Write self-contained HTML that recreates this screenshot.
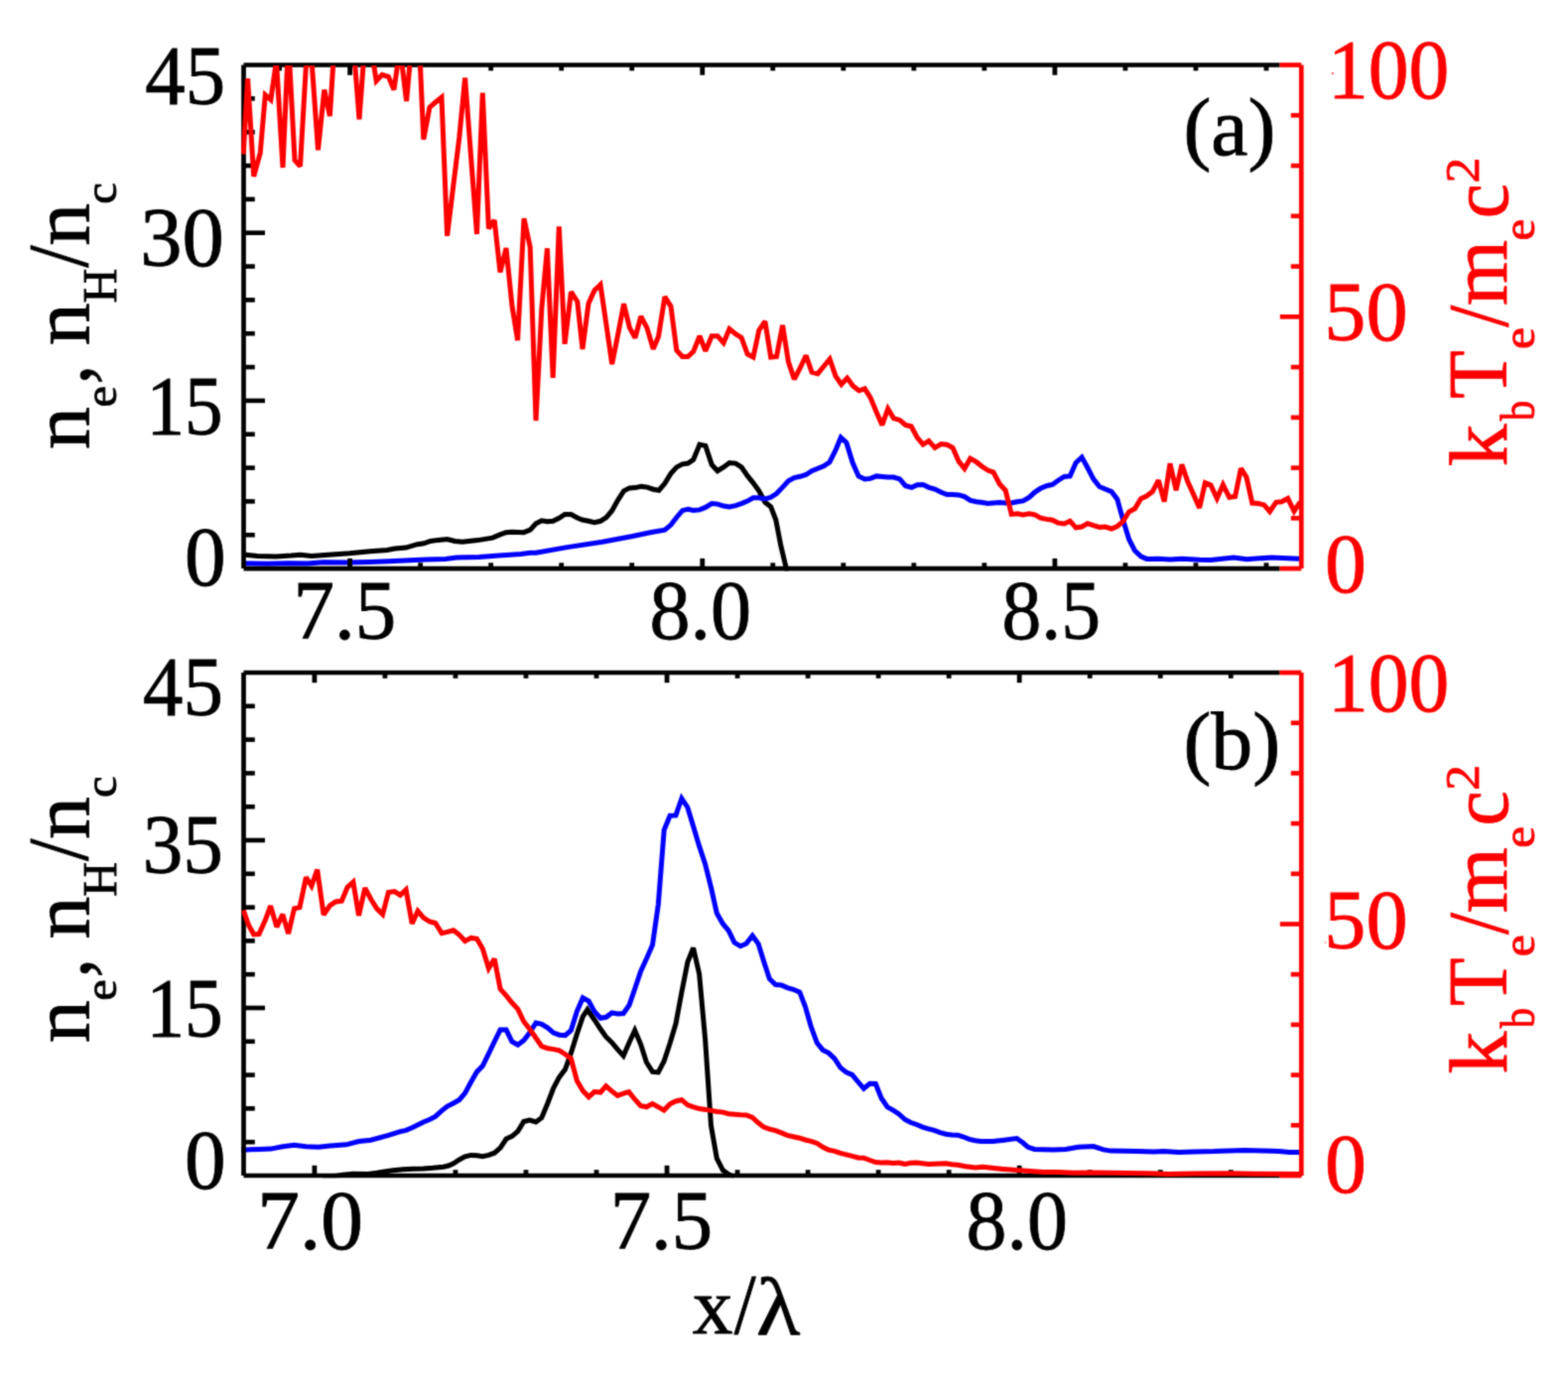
<!DOCTYPE html>
<html lang="en">
<head>
<meta charset="utf-8">
<title>Electron and proton density with electron temperature profiles</title>
<style>
html,body{margin:0;padding:0;background:#ffffff;}
body{width:1580px;height:1384px;overflow:hidden;}
svg{display:block;}
</style>
</head>
<body>
<svg width="1580" height="1384" viewBox="0 0 1580 1384" font-family="'Liberation Serif', 'DejaVu Serif', serif">
<defs>
<clipPath id="ca"><rect x="243.15" y="66.00" width="1070.50" height="509.45"/></clipPath>
<clipPath id="cb"><rect x="243.15" y="678.50" width="1070.50" height="508.85"/></clipPath>
<filter id="soft" x="0" y="0" width="1580" height="1384" filterUnits="userSpaceOnUse" color-interpolation-filters="sRGB"><feConvolveMatrix order="3" kernelMatrix="0.0361 0.1178 0.0361 0.1178 0.3846 0.1178 0.0361 0.1178 0.0361" edgeMode="duplicate" preserveAlpha="false"/></filter>
</defs>
<g id="figure" filter="url(#soft)">
<rect width="1580" height="1384" fill="#ffffff"/>
<g id="panel-a">
<path d="M245.0 559.0 L247.6 559.2 L259.0 560.5 L278.0 561.1 L293.2 560.1 L302.7 559.2 L314.0 560.5 L327.3 559.6 L352.0 557.8 L372.9 555.8 L390.0 554.4 L397.6 553.1 L409.0 552.1 L420.4 548.7 L427.0 547.8 L433.7 545.5 L441.3 544.4 L450.7 543.6 L458.3 545.5 L465.9 546.3 L481.1 544.6 L496.3 542.1 L503.9 538.9 L510.0 536.7 L516.0 536.2 L527.8 536.7 L534.2 534.2 L540.0 527.8 L545.8 524.8 L551.4 525.8 L557.2 525.3 L563.3 522.3 L569.1 518.5 L575.4 518.5 L581.8 522.0 L586.8 524.0 L593.2 525.3 L599.0 526.6 L605.0 525.3 L610.9 521.5 L616.7 514.7 L622.8 503.8 L628.6 494.9 L634.4 491.9 L640.0 491.6 L646.3 490.4 L652.2 491.1 L658.2 493.2 L664.0 494.2 L669.9 487.3 L676.0 477.2 L681.8 470.9 L687.6 467.8 L693.2 467.1 L698.7 463.3 L705.0 448.1 L710.9 449.4 L717.2 468.4 L723.0 474.7 L729.1 470.9 L735.0 466.6 L741.3 467.1 L747.1 470.9 L753.2 479.7 L759.0 486.8 L764.8 494.9 L770.9 506.3 L776.7 510.9 L781.8 524.0 L786.8 549.9 L793.0 576.0" fill="none" stroke="#000000" stroke-width="5.00" stroke-linejoin="miter" stroke-miterlimit="2.5" stroke-linecap="butt" clip-path="url(#ca)"/>
<path d="M244.0 568.0 L248.0 568.0 L270.0 568.2 L290.0 567.8 L310.0 568.1 L316.0 567.6 L326.0 566.7 L350.0 566.9 L372.9 566.5 L391.9 565.8 L429.9 563.9 L448.8 563.4 L460.2 562.0 L483.0 561.5 L505.8 559.7 L524.8 558.6 L534.3 557.3 L540.0 557.3 L571.6 551.6 L607.0 546.3 L637.5 540.5 L655.2 536.7 L669.9 534.2 L676.0 529.1 L681.8 521.5 L687.6 514.7 L693.2 513.2 L698.7 514.4 L705.0 513.9 L710.9 511.4 L717.2 507.6 L723.0 508.1 L729.1 510.1 L735.0 510.9 L741.3 509.6 L747.1 507.6 L753.2 505.1 L759.0 501.8 L764.8 501.8 L770.9 503.0 L776.7 501.3 L782.5 497.5 L788.6 491.1 L794.4 484.8 L800.3 481.5 L806.3 480.3 L812.2 478.5 L818.0 474.7 L824.0 472.2 L830.1 469.7 L836.0 465.7 L842.0 453.8 L847.3 441.1 L852.9 446.2 L859.2 466.5 L865.1 479.9 L871.4 482.9 L877.0 482.4 L883.3 479.9 L888.9 480.4 L894.7 480.9 L900.5 481.1 L906.6 482.9 L912.4 489.7 L918.7 491.3 L924.3 488.7 L930.1 488.5 L935.9 491.3 L942.0 493.0 L948.4 496.3 L954.2 498.6 L960.0 498.4 L966.1 498.9 L971.9 500.6 L977.7 504.4 L983.8 505.7 L989.6 506.5 L995.4 507.5 L1001.0 507.0 L1007.3 506.5 L1013.2 507.0 L1019.2 507.0 L1025.1 505.7 L1030.9 504.9 L1037.0 501.4 L1042.8 496.1 L1048.6 492.3 L1054.7 489.7 L1060.5 488.5 L1066.3 484.2 L1072.4 480.4 L1078.2 479.9 L1084.1 466.5 L1090.1 460.9 L1095.9 471.5 L1101.8 482.9 L1107.8 490.5 L1113.7 493.0 L1120.0 495.6 L1125.8 503.2 L1131.4 523.4 L1137.7 543.7 L1143.5 555.1 L1149.6 560.9 L1155.4 563.4 L1167.3 563.2 L1179.0 563.9 L1190.9 563.2 L1208.6 564.2 L1220.0 564.4 L1243.3 562.1 L1256.0 563.8 L1281.3 562.0 L1309.0 563.3 L1312.0 563.3" fill="none" stroke="#0000ff" stroke-width="5.00" stroke-linejoin="miter" stroke-miterlimit="2.5" stroke-linecap="butt" clip-path="url(#ca)"/>
<line x1="245.50" y1="65.50" x2="1289.60" y2="65.50" stroke="#000000" stroke-width="4.70"/>
<line x1="245.50" y1="573.10" x2="1289.60" y2="573.10" stroke="#000000" stroke-width="4.70"/>
<line x1="245.50" y1="65.50" x2="245.50" y2="573.10" stroke="#000000" stroke-width="4.70"/>
<line x1="245.50" y1="539.26" x2="256.80" y2="539.26" stroke="#000000" stroke-width="4.60"/>
<line x1="245.50" y1="505.42" x2="256.80" y2="505.42" stroke="#000000" stroke-width="4.60"/>
<line x1="245.50" y1="471.58" x2="256.80" y2="471.58" stroke="#000000" stroke-width="4.60"/>
<line x1="245.50" y1="437.74" x2="256.80" y2="437.74" stroke="#000000" stroke-width="4.60"/>
<line x1="245.50" y1="403.90" x2="267.00" y2="403.90" stroke="#000000" stroke-width="4.60"/>
<line x1="245.50" y1="370.06" x2="256.80" y2="370.06" stroke="#000000" stroke-width="4.60"/>
<line x1="245.50" y1="336.22" x2="256.80" y2="336.22" stroke="#000000" stroke-width="4.60"/>
<line x1="245.50" y1="302.38" x2="256.80" y2="302.38" stroke="#000000" stroke-width="4.60"/>
<line x1="245.50" y1="268.54" x2="256.80" y2="268.54" stroke="#000000" stroke-width="4.60"/>
<line x1="245.50" y1="234.70" x2="267.00" y2="234.70" stroke="#000000" stroke-width="4.60"/>
<line x1="245.50" y1="200.86" x2="256.80" y2="200.86" stroke="#000000" stroke-width="4.60"/>
<line x1="245.50" y1="167.02" x2="256.80" y2="167.02" stroke="#000000" stroke-width="4.60"/>
<line x1="245.50" y1="133.18" x2="256.80" y2="133.18" stroke="#000000" stroke-width="4.60"/>
<line x1="245.50" y1="99.34" x2="256.80" y2="99.34" stroke="#000000" stroke-width="4.60"/>
<line x1="281.57" y1="65.50" x2="281.57" y2="71.30" stroke="#000000" stroke-width="4.80"/>
<line x1="352.60" y1="573.10" x2="352.60" y2="562.90" stroke="#000000" stroke-width="4.80"/>
<line x1="352.60" y1="65.50" x2="352.60" y2="75.70" stroke="#000000" stroke-width="4.80"/>
<line x1="423.63" y1="573.10" x2="423.63" y2="567.30" stroke="#000000" stroke-width="4.80"/>
<line x1="423.63" y1="65.50" x2="423.63" y2="71.30" stroke="#000000" stroke-width="4.80"/>
<line x1="494.66" y1="573.10" x2="494.66" y2="567.30" stroke="#000000" stroke-width="4.80"/>
<line x1="494.66" y1="65.50" x2="494.66" y2="71.30" stroke="#000000" stroke-width="4.80"/>
<line x1="565.69" y1="573.10" x2="565.69" y2="567.30" stroke="#000000" stroke-width="4.80"/>
<line x1="565.69" y1="65.50" x2="565.69" y2="71.30" stroke="#000000" stroke-width="4.80"/>
<line x1="636.72" y1="573.10" x2="636.72" y2="567.30" stroke="#000000" stroke-width="4.80"/>
<line x1="636.72" y1="65.50" x2="636.72" y2="71.30" stroke="#000000" stroke-width="4.80"/>
<line x1="707.75" y1="573.10" x2="707.75" y2="562.90" stroke="#000000" stroke-width="4.80"/>
<line x1="707.75" y1="65.50" x2="707.75" y2="75.70" stroke="#000000" stroke-width="4.80"/>
<line x1="778.78" y1="573.10" x2="778.78" y2="567.30" stroke="#000000" stroke-width="4.80"/>
<line x1="778.78" y1="65.50" x2="778.78" y2="71.30" stroke="#000000" stroke-width="4.80"/>
<line x1="849.81" y1="573.10" x2="849.81" y2="567.30" stroke="#000000" stroke-width="4.80"/>
<line x1="849.81" y1="65.50" x2="849.81" y2="71.30" stroke="#000000" stroke-width="4.80"/>
<line x1="920.84" y1="573.10" x2="920.84" y2="567.30" stroke="#000000" stroke-width="4.80"/>
<line x1="920.84" y1="65.50" x2="920.84" y2="71.30" stroke="#000000" stroke-width="4.80"/>
<line x1="991.87" y1="573.10" x2="991.87" y2="567.30" stroke="#000000" stroke-width="4.80"/>
<line x1="991.87" y1="65.50" x2="991.87" y2="71.30" stroke="#000000" stroke-width="4.80"/>
<line x1="1062.90" y1="573.10" x2="1062.90" y2="562.90" stroke="#000000" stroke-width="4.80"/>
<line x1="1062.90" y1="65.50" x2="1062.90" y2="75.70" stroke="#000000" stroke-width="4.80"/>
<line x1="1133.93" y1="573.10" x2="1133.93" y2="567.30" stroke="#000000" stroke-width="4.80"/>
<line x1="1133.93" y1="65.50" x2="1133.93" y2="71.30" stroke="#000000" stroke-width="4.80"/>
<line x1="1204.96" y1="573.10" x2="1204.96" y2="567.30" stroke="#000000" stroke-width="4.80"/>
<line x1="1204.96" y1="65.50" x2="1204.96" y2="71.30" stroke="#000000" stroke-width="4.80"/>
<line x1="1275.99" y1="573.10" x2="1275.99" y2="567.30" stroke="#000000" stroke-width="4.80"/>
<line x1="1275.99" y1="65.50" x2="1275.99" y2="71.30" stroke="#000000" stroke-width="4.80"/>
<path d="M245.2 155.5 L249.6 79.1 L255.7 177.8 L262.3 153.8 L267.3 95.6 L272.9 100.6 L278.5 61.0 L285.0 169.0 L290.6 41.0 L297.0 161.4 L302.5 167.7 L308.3 67.5 L311.0 63.2 L314.5 67.0 L320.5 151.3 L326.8 90.5 L332.4 117.0 L338.3 24.0 L344.2 30.0 L350.1 30.0 L356.2 46.0 L362.0 120.4 L367.8 42.0 L373.8 47.5 L379.2 81.6 L385.0 75.3 L391.4 77.3 L397.0 90.5 L403.0 48.0 L409.6 101.9 L415.4 38.0 L421.3 17.0 L426.8 140.6 L432.9 108.2 L438.9 103.0 L445.0 98.1 L450.6 237.8 L456.7 188.0 L462.8 138.6 L468.6 78.4 L474.5 157.0 L480.5 236.0 L486.3 93.5 L492.4 230.3 L498.2 222.0 L504.0 274.5 L510.0 250.0 L516.0 308.5 L521.6 343.0 L528.0 220.2 L534.2 249.0 L540.0 424.0 L545.8 311.4 L551.4 250.3 L557.2 381.0 L563.3 228.4 L569.1 346.8 L575.4 294.2 L581.8 304.0 L587.0 351.9 L593.0 306.0 L599.0 292.7 L605.0 287.0 L610.9 327.0 L616.7 367.1 L622.7 337.0 L628.6 306.3 L634.4 330.4 L640.0 340.5 L645.8 319.0 L651.9 330.4 L658.2 351.9 L663.5 339.2 L669.9 299.2 L676.0 308.9 L681.8 353.2 L687.6 359.5 L693.2 359.5 L698.7 354.4 L705.0 338.7 L710.9 353.9 L717.2 338.7 L723.0 338.7 L729.1 345.6 L735.0 331.6 L741.3 336.7 L747.1 340.5 L753.2 357.0 L759.0 360.0 L764.8 332.9 L770.9 324.0 L776.7 360.0 L782.5 359.5 L788.6 327.8 L794.4 364.6 L800.3 382.3 L806.2 371.0 L812.2 358.2 L818.0 375.2 L824.0 376.7 L830.3 369.0 L836.1 362.0 L842.0 379.1 L847.8 387.5 L853.7 381.1 L859.7 389.2 L865.6 393.8 L871.4 391.8 L877.0 400.6 L883.3 415.8 L888.9 428.5 L894.7 412.0 L900.5 421.6 L906.6 423.4 L912.4 428.5 L918.2 429.7 L924.3 441.1 L930.1 448.0 L935.9 444.4 L942.0 451.3 L948.4 447.5 L954.2 448.2 L960.0 451.3 L966.1 465.2 L971.9 472.3 L977.7 462.2 L983.8 465.7 L989.6 470.3 L995.4 474.1 L1001.0 476.1 L1007.3 488.0 L1013.2 494.3 L1019.2 518.4 L1025.1 517.8 L1030.9 518.9 L1037.0 517.8 L1042.8 518.9 L1048.6 522.2 L1054.7 523.4 L1060.5 524.2 L1066.3 527.2 L1072.4 528.0 L1078.2 525.2 L1084.1 531.8 L1090.1 531.0 L1095.9 527.7 L1101.8 529.7 L1107.8 531.5 L1113.7 531.0 L1120.0 533.0 L1125.8 530.5 L1131.4 525.9 L1137.7 515.8 L1143.5 512.8 L1149.6 502.7 L1155.4 500.1 L1161.3 495.6 L1167.3 484.2 L1173.2 505.7 L1179.0 467.2 L1185.1 494.3 L1190.9 468.2 L1196.7 485.4 L1202.3 497.6 L1208.6 512.0 L1214.4 486.7 L1220.0 489.0 L1226.3 502.5 L1232.4 488.6 L1238.7 501.3 L1244.6 500.5 L1250.4 472.2 L1256.0 481.0 L1261.8 507.1 L1267.8 507.6 L1273.7 508.9 L1279.5 515.7 L1285.8 506.3 L1291.4 505.8 L1297.7 502.5 L1304.0 515.2 L1309.0 507.6 L1312.0 505.0" fill="none" stroke="#ff0000" stroke-width="5.00" stroke-linejoin="miter" stroke-miterlimit="2.5" stroke-linecap="butt" clip-path="url(#ca)"/>
<line x1="1289.60" y1="65.50" x2="1311.30" y2="65.50" stroke="#ff0000" stroke-width="4.70"/>
<line x1="1289.60" y1="573.10" x2="1311.30" y2="573.10" stroke="#ff0000" stroke-width="4.70"/>
<line x1="1311.30" y1="65.50" x2="1311.30" y2="573.10" stroke="#ff0000" stroke-width="4.70"/>
<line x1="1300.80" y1="522.34" x2="1311.30" y2="522.34" stroke="#ff0000" stroke-width="4.60"/>
<line x1="1300.80" y1="471.58" x2="1311.30" y2="471.58" stroke="#ff0000" stroke-width="4.60"/>
<line x1="1300.80" y1="420.82" x2="1311.30" y2="420.82" stroke="#ff0000" stroke-width="4.60"/>
<line x1="1300.80" y1="370.06" x2="1311.30" y2="370.06" stroke="#ff0000" stroke-width="4.60"/>
<line x1="1289.80" y1="319.30" x2="1311.30" y2="319.30" stroke="#ff0000" stroke-width="4.60"/>
<line x1="1300.80" y1="268.54" x2="1311.30" y2="268.54" stroke="#ff0000" stroke-width="4.60"/>
<line x1="1300.80" y1="217.78" x2="1311.30" y2="217.78" stroke="#ff0000" stroke-width="4.60"/>
<line x1="1300.80" y1="167.02" x2="1311.30" y2="167.02" stroke="#ff0000" stroke-width="4.60"/>
<line x1="1300.80" y1="116.26" x2="1311.30" y2="116.26" stroke="#ff0000" stroke-width="4.60"/>
</g>
<g id="panel-b">
<path d="M325.0 1186.5 L336.0 1185.6 L345.6 1184.2 L355.7 1183.2 L370.9 1183.4 L380.0 1182.3 L386.1 1181.1 L396.0 1179.8 L406.3 1178.8 L416.0 1178.3 L426.6 1178.0 L436.0 1177.3 L446.8 1176.2 L452.0 1175.0 L457.0 1172.8 L462.8 1169.0 L468.6 1165.9 L474.7 1164.4 L480.5 1164.7 L486.3 1165.7 L492.4 1164.4 L498.2 1162.2 L504.1 1157.1 L510.1 1148.0 L515.9 1145.4 L521.8 1140.4 L527.8 1130.5 L533.7 1129.0 L540.0 1131.0 L545.8 1126.7 L551.9 1112.0 L557.7 1096.8 L563.5 1085.9 L569.6 1077.8 L575.4 1061.4 L581.3 1042.4 L587.3 1024.7 L591.9 1017.8 L599.0 1028.0 L605.1 1037.3 L610.5 1045.0 L616.6 1051.0 L622.8 1058.4 L628.2 1064.3 L634.4 1050.0 L639.7 1038.6 L645.6 1052.5 L651.4 1070.8 L657.5 1080.4 L663.3 1080.9 L669.1 1069.7 L675.2 1051.3 L681.0 1031.8 L686.8 1000.6 L692.9 969.7 L698.6 955.5 L704.6 981.6 L710.6 1047.5 L716.5 1134.8 L722.3 1167.7 L728.4 1179.6 L734.2 1183.7 L740.0 1186.0" fill="none" stroke="#000000" stroke-width="5.00" stroke-linejoin="miter" stroke-miterlimit="2.5" stroke-linecap="butt" clip-path="url(#cb)"/>
<path d="M243.0 1158.9 L248.1 1158.9 L261.5 1158.4 L272.9 1158.1 L284.8 1155.8 L296.5 1154.3 L308.4 1155.8 L321.0 1156.3 L332.4 1155.1 L348.9 1153.8 L361.5 1150.5 L373.7 1149.2 L391.4 1144.4 L403.3 1140.6 L409.1 1139.4 L415.2 1136.8 L426.8 1131.0 L432.9 1128.5 L438.7 1125.4 L445.1 1119.6 L450.9 1115.1 L457.0 1112.0 L462.8 1108.7 L468.6 1101.9 L474.7 1090.5 L480.5 1080.4 L486.3 1074.6 L492.4 1062.2 L498.2 1050.0 L504.1 1038.1 L510.1 1038.1 L515.9 1050.0 L521.8 1053.3 L527.8 1048.7 L533.7 1041.1 L540.0 1031.0 L545.8 1032.3 L551.9 1036.1 L557.7 1041.1 L563.5 1043.2 L569.6 1043.7 L575.4 1038.6 L581.3 1019.6 L587.3 1005.7 L593.2 1009.0 L599.0 1019.6 L605.1 1026.3 L610.8 1025.3 L616.6 1020.9 L622.5 1022.0 L628.2 1021.5 L634.0 1013.3 L639.7 996.8 L645.6 979.1 L651.4 966.5 L657.5 952.5 L663.3 911.8 L669.2 836.5 L675.1 822.2 L681.0 821.9 L686.9 804.8 L692.8 813.7 L698.7 833.3 L704.6 852.9 L710.5 870.6 L716.4 894.1 L722.3 920.6 L728.4 931.2 L734.2 938.1 L740.0 950.0 L746.1 953.8 L751.9 951.3 L758.2 943.2 L764.1 951.3 L769.6 969.0 L775.4 986.7 L781.5 992.5 L787.3 993.0 L793.2 995.6 L799.2 997.3 L805.8 1000.1 L811.4 1014.6 L817.2 1034.8 L823.3 1051.3 L829.1 1058.4 L834.9 1061.4 L841.0 1067.2 L846.8 1076.1 L852.7 1080.9 L858.7 1083.4 L864.6 1090.5 L870.4 1097.3 L876.5 1092.3 L882.3 1092.5 L888.1 1107.0 L894.2 1115.8 L900.0 1119.1 L905.8 1122.9 L911.9 1128.5 L917.7 1131.5 L923.5 1133.5 L929.6 1136.1 L935.4 1137.8 L941.3 1139.4 L947.3 1141.6 L953.2 1143.2 L959.0 1143.9 L965.1 1144.2 L970.9 1146.0 L976.7 1148.4 L982.8 1149.8 L988.6 1150.4 L1000.5 1150.5 L1011.9 1149.2 L1024.6 1147.5 L1030.9 1152.0 L1035.9 1156.3 L1042.3 1158.4 L1061.3 1158.9 L1073.9 1158.4 L1086.6 1156.3 L1101.8 1155.6 L1111.9 1158.9 L1119.5 1160.1 L1147.3 1160.4 L1162.5 1160.9 L1172.7 1160.4 L1187.8 1161.6 L1203.0 1160.9 L1223.3 1160.6 L1238.5 1159.9 L1253.7 1159.6 L1273.9 1160.1 L1289.1 1160.4 L1299.2 1161.4 L1312.0 1161.6" fill="none" stroke="#0000ff" stroke-width="5.00" stroke-linejoin="miter" stroke-miterlimit="2.5" stroke-linecap="butt" clip-path="url(#cb)"/>
<line x1="245.50" y1="678.00" x2="1289.60" y2="678.00" stroke="#000000" stroke-width="4.70"/>
<line x1="245.50" y1="1185.00" x2="1289.60" y2="1185.00" stroke="#000000" stroke-width="4.70"/>
<line x1="245.50" y1="678.00" x2="245.50" y2="1185.00" stroke="#000000" stroke-width="4.70"/>
<line x1="245.50" y1="1151.20" x2="256.80" y2="1151.20" stroke="#000000" stroke-width="4.60"/>
<line x1="245.50" y1="1117.40" x2="256.80" y2="1117.40" stroke="#000000" stroke-width="4.60"/>
<line x1="245.50" y1="1083.60" x2="256.80" y2="1083.60" stroke="#000000" stroke-width="4.60"/>
<line x1="245.50" y1="1049.80" x2="256.80" y2="1049.80" stroke="#000000" stroke-width="4.60"/>
<line x1="245.50" y1="1016.00" x2="267.00" y2="1016.00" stroke="#000000" stroke-width="4.60"/>
<line x1="245.50" y1="982.20" x2="256.80" y2="982.20" stroke="#000000" stroke-width="4.60"/>
<line x1="245.50" y1="948.40" x2="256.80" y2="948.40" stroke="#000000" stroke-width="4.60"/>
<line x1="245.50" y1="914.60" x2="256.80" y2="914.60" stroke="#000000" stroke-width="4.60"/>
<line x1="245.50" y1="880.80" x2="256.80" y2="880.80" stroke="#000000" stroke-width="4.60"/>
<line x1="245.50" y1="847.00" x2="267.00" y2="847.00" stroke="#000000" stroke-width="4.60"/>
<line x1="245.50" y1="813.20" x2="256.80" y2="813.20" stroke="#000000" stroke-width="4.60"/>
<line x1="245.50" y1="779.40" x2="256.80" y2="779.40" stroke="#000000" stroke-width="4.60"/>
<line x1="245.50" y1="745.60" x2="256.80" y2="745.60" stroke="#000000" stroke-width="4.60"/>
<line x1="245.50" y1="711.80" x2="256.80" y2="711.80" stroke="#000000" stroke-width="4.60"/>
<line x1="316.90" y1="1185.00" x2="316.90" y2="1174.80" stroke="#000000" stroke-width="4.80"/>
<line x1="316.90" y1="678.00" x2="316.90" y2="688.20" stroke="#000000" stroke-width="4.80"/>
<line x1="387.93" y1="1185.00" x2="387.93" y2="1179.20" stroke="#000000" stroke-width="4.80"/>
<line x1="387.93" y1="678.00" x2="387.93" y2="683.80" stroke="#000000" stroke-width="4.80"/>
<line x1="458.96" y1="1185.00" x2="458.96" y2="1179.20" stroke="#000000" stroke-width="4.80"/>
<line x1="458.96" y1="678.00" x2="458.96" y2="683.80" stroke="#000000" stroke-width="4.80"/>
<line x1="529.99" y1="1185.00" x2="529.99" y2="1179.20" stroke="#000000" stroke-width="4.80"/>
<line x1="529.99" y1="678.00" x2="529.99" y2="683.80" stroke="#000000" stroke-width="4.80"/>
<line x1="601.02" y1="1185.00" x2="601.02" y2="1179.20" stroke="#000000" stroke-width="4.80"/>
<line x1="601.02" y1="678.00" x2="601.02" y2="683.80" stroke="#000000" stroke-width="4.80"/>
<line x1="672.05" y1="1185.00" x2="672.05" y2="1174.80" stroke="#000000" stroke-width="4.80"/>
<line x1="672.05" y1="678.00" x2="672.05" y2="688.20" stroke="#000000" stroke-width="4.80"/>
<line x1="743.08" y1="1185.00" x2="743.08" y2="1179.20" stroke="#000000" stroke-width="4.80"/>
<line x1="743.08" y1="678.00" x2="743.08" y2="683.80" stroke="#000000" stroke-width="4.80"/>
<line x1="814.11" y1="1185.00" x2="814.11" y2="1179.20" stroke="#000000" stroke-width="4.80"/>
<line x1="814.11" y1="678.00" x2="814.11" y2="683.80" stroke="#000000" stroke-width="4.80"/>
<line x1="885.14" y1="1185.00" x2="885.14" y2="1179.20" stroke="#000000" stroke-width="4.80"/>
<line x1="885.14" y1="678.00" x2="885.14" y2="683.80" stroke="#000000" stroke-width="4.80"/>
<line x1="956.17" y1="1185.00" x2="956.17" y2="1179.20" stroke="#000000" stroke-width="4.80"/>
<line x1="956.17" y1="678.00" x2="956.17" y2="683.80" stroke="#000000" stroke-width="4.80"/>
<line x1="1027.20" y1="1185.00" x2="1027.20" y2="1174.80" stroke="#000000" stroke-width="4.80"/>
<line x1="1027.20" y1="678.00" x2="1027.20" y2="688.20" stroke="#000000" stroke-width="4.80"/>
<line x1="1098.23" y1="1185.00" x2="1098.23" y2="1179.20" stroke="#000000" stroke-width="4.80"/>
<line x1="1098.23" y1="678.00" x2="1098.23" y2="683.80" stroke="#000000" stroke-width="4.80"/>
<line x1="1169.26" y1="1185.00" x2="1169.26" y2="1179.20" stroke="#000000" stroke-width="4.80"/>
<line x1="1169.26" y1="678.00" x2="1169.26" y2="683.80" stroke="#000000" stroke-width="4.80"/>
<line x1="1240.29" y1="1185.00" x2="1240.29" y2="1179.20" stroke="#000000" stroke-width="4.80"/>
<line x1="1240.29" y1="678.00" x2="1240.29" y2="683.80" stroke="#000000" stroke-width="4.80"/>
<path d="M245.3 917.5 L250.3 932.0 L255.6 941.8 L261.0 941.5 L267.3 927.5 L272.6 913.2 L278.9 934.4 L284.8 921.6 L290.6 941.1 L296.5 915.8 L302.0 914.6 L308.4 884.2 L313.9 893.0 L319.7 876.6 L326.1 922.2 L332.4 912.8 L338.2 909.0 L344.3 908.2 L350.1 894.3 L355.9 889.2 L361.5 922.9 L367.8 895.1 L373.7 906.2 L379.7 915.8 L385.6 921.6 L391.4 899.4 L397.5 898.6 L403.3 902.4 L409.1 896.8 L415.2 931.0 L421.0 918.4 L426.8 925.2 L432.9 929.0 L438.7 930.5 L445.1 940.6 L450.9 939.4 L457.0 937.8 L462.8 942.4 L468.6 948.7 L474.7 945.4 L480.5 946.2 L486.3 956.3 L492.4 976.1 L498.2 966.5 L504.1 996.8 L510.1 1003.7 L515.9 1010.8 L521.8 1017.1 L527.8 1029.7 L533.7 1037.3 L540.0 1046.2 L545.8 1054.6 L551.9 1056.8 L557.7 1057.6 L563.5 1058.9 L569.6 1062.7 L575.4 1067.0 L581.3 1089.2 L587.3 1099.4 L593.2 1105.7 L599.0 1100.6 L605.1 1101.1 L610.6 1094.8 L616.5 1099.9 L622.3 1104.4 L627.8 1102.4 L633.7 1100.6 L639.7 1108.2 L645.6 1114.6 L651.4 1115.8 L657.5 1112.5 L663.3 1115.8 L669.1 1119.1 L675.2 1112.8 L681.0 1110.0 L686.8 1108.7 L692.9 1113.8 L698.7 1115.8 L704.6 1117.6 L710.6 1118.4 L716.5 1119.4 L722.3 1120.4 L728.4 1121.1 L734.2 1122.7 L740.0 1123.2 L746.1 1123.7 L751.9 1123.9 L758.2 1126.5 L764.1 1131.8 L769.6 1136.1 L775.4 1138.1 L781.5 1139.6 L787.3 1141.9 L793.2 1144.4 L799.2 1145.7 L805.8 1147.2 L811.4 1149.0 L817.2 1150.3 L823.3 1152.5 L829.1 1156.3 L834.9 1159.1 L841.0 1160.4 L846.8 1162.4 L852.7 1163.9 L858.7 1165.4 L864.6 1167.0 L870.4 1167.2 L876.5 1169.5 L882.3 1171.5 L888.1 1172.0 L894.2 1171.8 L900.0 1172.5 L905.8 1172.0 L911.9 1173.5 L917.7 1172.3 L923.5 1172.0 L929.6 1172.8 L935.4 1173.5 L941.3 1173.3 L947.3 1173.0 L953.2 1172.8 L959.0 1173.8 L965.1 1174.3 L972.7 1175.8 L982.8 1177.1 L990.4 1176.3 L1010.6 1178.4 L1030.9 1180.1 L1051.1 1181.6 L1066.3 1181.4 L1081.5 1182.2 L1101.8 1181.9 L1137.2 1182.4 L1157.5 1182.7 L1177.7 1183.4 L1203.0 1182.9 L1238.5 1182.7 L1263.8 1183.2 L1312.0 1183.4" fill="none" stroke="#ff0000" stroke-width="5.00" stroke-linejoin="miter" stroke-miterlimit="2.5" stroke-linecap="butt" clip-path="url(#cb)"/>
<line x1="1289.60" y1="678.00" x2="1311.30" y2="678.00" stroke="#ff0000" stroke-width="4.70"/>
<line x1="1289.60" y1="1185.00" x2="1311.30" y2="1185.00" stroke="#ff0000" stroke-width="4.70"/>
<line x1="1311.30" y1="678.00" x2="1311.30" y2="1185.00" stroke="#ff0000" stroke-width="4.70"/>
<line x1="1300.80" y1="1134.30" x2="1311.30" y2="1134.30" stroke="#ff0000" stroke-width="4.60"/>
<line x1="1300.80" y1="1083.60" x2="1311.30" y2="1083.60" stroke="#ff0000" stroke-width="4.60"/>
<line x1="1300.80" y1="1032.90" x2="1311.30" y2="1032.90" stroke="#ff0000" stroke-width="4.60"/>
<line x1="1300.80" y1="982.20" x2="1311.30" y2="982.20" stroke="#ff0000" stroke-width="4.60"/>
<line x1="1289.80" y1="931.50" x2="1311.30" y2="931.50" stroke="#ff0000" stroke-width="4.60"/>
<line x1="1300.80" y1="880.80" x2="1311.30" y2="880.80" stroke="#ff0000" stroke-width="4.60"/>
<line x1="1300.80" y1="830.10" x2="1311.30" y2="830.10" stroke="#ff0000" stroke-width="4.60"/>
<line x1="1300.80" y1="779.40" x2="1311.30" y2="779.40" stroke="#ff0000" stroke-width="4.60"/>
<line x1="1300.80" y1="728.70" x2="1311.30" y2="728.70" stroke="#ff0000" stroke-width="4.60"/>
</g>
<circle cx="1342.8" cy="74" r="1.1" fill="#ff0000" opacity="0.8"/>
<circle cx="1335.6" cy="949.9" r="1.2" fill="#ff0000" opacity="0.3"/>
<g id="labels">
<text transform="translate(146.29 104.65) scale(0.9787 1.0343)" font-size="82.5" fill="#000000" stroke="#000000" stroke-width="0.80">45</text>
<text transform="translate(141.35 267.75) scale(1.0238 1.0274)" font-size="82.5" fill="#000000" stroke="#000000" stroke-width="0.80">30</text>
<text transform="translate(147.52 437.75) scale(0.9341 1.0330)" font-size="82.5" fill="#000000" stroke="#000000" stroke-width="0.80">15</text>
<text transform="translate(186.04 589.86) scale(1.0091 1.0238)" font-size="82.5" fill="#000000" stroke="#000000" stroke-width="0.80">0</text>
<text transform="translate(143.98 721.15) scale(0.9800 1.0325)" font-size="82.5" fill="#000000" stroke="#000000" stroke-width="0.80">45</text>
<text transform="translate(143.81 879.65) scale(0.9822 1.0335)" font-size="82.5" fill="#000000" stroke="#000000" stroke-width="0.80">35</text>
<text transform="translate(147.51 1044.55) scale(0.9355 1.0312)" font-size="82.5" fill="#000000" stroke="#000000" stroke-width="0.80">15</text>
<text transform="translate(186.04 1197.86) scale(1.0091 1.0221)" font-size="82.5" fill="#000000" stroke="#000000" stroke-width="0.80">0</text>
<text transform="translate(1338.02 98.55) scale(0.9889 1.0292)" font-size="82.5" fill="#ff0000" stroke="#ff0000" stroke-width="0.80">100</text>
<text transform="translate(1334.31 342.85) scale(1.0217 1.0274)" font-size="82.5" fill="#ff0000" stroke="#ff0000" stroke-width="0.80">50</text>
<text transform="translate(1335.02 596.65) scale(1.0149 1.0256)" font-size="82.5" fill="#ff0000" stroke="#ff0000" stroke-width="0.80">0</text>
<text transform="translate(1338.02 716.55) scale(0.9889 1.0274)" font-size="82.5" fill="#ff0000" stroke="#ff0000" stroke-width="0.80">100</text>
<text transform="translate(1334.31 955.85) scale(1.0217 1.0274)" font-size="82.5" fill="#ff0000" stroke="#ff0000" stroke-width="0.80">50</text>
<text transform="translate(1335.02 1202.45) scale(1.0149 1.0274)" font-size="82.5" fill="#ff0000" stroke="#ff0000" stroke-width="0.80">0</text>
<text transform="translate(295.52 643.52) scale(1.0055 1.0180)" font-size="82.5" fill="#000000" stroke="#000000" stroke-width="0.80">7.5</text>
<text transform="translate(654.38 643.52) scale(0.9953 1.0250)" font-size="82.5" fill="#000000" stroke="#000000" stroke-width="0.80">8.0</text>
<text transform="translate(1009.57 643.52) scale(0.9649 1.0250)" font-size="82.5" fill="#000000" stroke="#000000" stroke-width="0.80">8.5</text>
<text transform="translate(259.37 1258.62) scale(1.0344 1.0250)" font-size="82.5" fill="#000000" stroke="#000000" stroke-width="0.80">7.0</text>
<text transform="translate(614.64 1258.62) scale(1.0034 1.0198)" font-size="82.5" fill="#000000" stroke="#000000" stroke-width="0.80">7.5</text>
<text transform="translate(973.49 1258.62) scale(0.9932 1.0250)" font-size="82.5" fill="#000000" stroke="#000000" stroke-width="0.80">8.0</text>
<text transform="translate(1192.41 156.20) scale(1.0152 1.0061)" font-size="82.5" fill="#000000" stroke="#000000" stroke-width="0.80">(a)</text>
<text transform="translate(1192.41 774.98) scale(1.0168 1.0074)" font-size="82.5" fill="#000000" stroke="#000000" stroke-width="0.80">(b)</text>
<text fill="#000000" stroke="#000000" stroke-width="0.80"><tspan x="697.75" y="1343.70" font-size="80.87" textLength="40.73" lengthAdjust="spacingAndGlyphs">x</tspan><tspan x="739.80" y="1343.73" font-size="87.31" textLength="21.89" lengthAdjust="spacingAndGlyphs">/</tspan><tspan x="762.02" y="1344.60" font-size="83.10" textLength="44.32" lengthAdjust="spacingAndGlyphs">λ</tspan></text>
<text transform="rotate(-90)" xml:space="preserve" fill="#000000" stroke="#000000" stroke-width="0.80"><tspan x="-452.99" y="88.80" font-size="81.78" textLength="42.97" lengthAdjust="spacingAndGlyphs">n</tspan><tspan x="-410.54" y="116.73" font-size="46.68" textLength="21.47" lengthAdjust="spacingAndGlyphs">e</tspan><tspan x="-387.25" y="89.73" font-size="83.98" textLength="19.43" lengthAdjust="spacingAndGlyphs">,</tspan><tspan font-size="83.98"> </tspan><tspan x="-348.29" y="88.80" font-size="81.78" textLength="42.86" lengthAdjust="spacingAndGlyphs">n</tspan><tspan x="-305.45" y="116.60" font-size="48.93" textLength="34.91" lengthAdjust="spacingAndGlyphs">H</tspan><tspan x="-269.70" y="88.43" font-size="87.01" textLength="22.49" lengthAdjust="spacingAndGlyphs">/</tspan><tspan x="-247.79" y="88.80" font-size="81.78" textLength="42.86" lengthAdjust="spacingAndGlyphs">n</tspan><tspan x="-205.76" y="116.73" font-size="46.68" textLength="21.72" lengthAdjust="spacingAndGlyphs">c</tspan></text>
<text transform="rotate(-90)" xml:space="preserve" fill="#000000" stroke="#000000" stroke-width="0.80"><tspan x="-1051.19" y="88.80" font-size="81.78" textLength="42.97" lengthAdjust="spacingAndGlyphs">n</tspan><tspan x="-1008.74" y="116.73" font-size="46.68" textLength="21.47" lengthAdjust="spacingAndGlyphs">e</tspan><tspan x="-985.45" y="89.73" font-size="83.98" textLength="19.43" lengthAdjust="spacingAndGlyphs">,</tspan><tspan font-size="83.98"> </tspan><tspan x="-946.49" y="88.80" font-size="81.78" textLength="42.86" lengthAdjust="spacingAndGlyphs">n</tspan><tspan x="-903.65" y="116.60" font-size="48.93" textLength="34.91" lengthAdjust="spacingAndGlyphs">H</tspan><tspan x="-867.90" y="88.43" font-size="87.01" textLength="22.49" lengthAdjust="spacingAndGlyphs">/</tspan><tspan x="-845.99" y="88.80" font-size="81.78" textLength="42.86" lengthAdjust="spacingAndGlyphs">n</tspan><tspan x="-803.96" y="116.73" font-size="46.68" textLength="21.72" lengthAdjust="spacingAndGlyphs">c</tspan></text>
<text transform="rotate(-90)" xml:space="preserve" fill="#ff0000" stroke="#ff0000" stroke-width="0.80"><tspan x="-470.21" y="1518.40" font-size="83.00" textLength="42.71" lengthAdjust="spacingAndGlyphs">k</tspan><tspan x="-424.30" y="1546.22" font-size="47.73" textLength="20.45" lengthAdjust="spacingAndGlyphs">b</tspan><tspan x="-401.73" y="1518.40" font-size="84.25" textLength="48.57" lengthAdjust="spacingAndGlyphs">T</tspan><tspan x="-351.98" y="1546.23" font-size="46.89" textLength="21.95" lengthAdjust="spacingAndGlyphs">e</tspan><tspan x="-329.70" y="1518.72" font-size="87.76" textLength="21.89" lengthAdjust="spacingAndGlyphs">/</tspan><tspan x="-307.90" y="1518.40" font-size="81.57" textLength="66.04" lengthAdjust="spacingAndGlyphs">m</tspan><tspan x="-242.47" y="1546.23" font-size="46.89" textLength="21.83" lengthAdjust="spacingAndGlyphs">e</tspan><tspan x="-220.22" y="1518.78" font-size="81.54" textLength="35.30" lengthAdjust="spacingAndGlyphs">c</tspan><tspan x="-184.48" y="1490.10" font-size="48.79" textLength="25.87" lengthAdjust="spacingAndGlyphs">2</tspan></text>
<text transform="rotate(-90)" xml:space="preserve" fill="#ff0000" stroke="#ff0000" stroke-width="0.80"><tspan x="-1082.51" y="1518.40" font-size="83.00" textLength="42.71" lengthAdjust="spacingAndGlyphs">k</tspan><tspan x="-1036.60" y="1546.22" font-size="47.73" textLength="20.45" lengthAdjust="spacingAndGlyphs">b</tspan><tspan x="-1014.03" y="1518.40" font-size="84.25" textLength="48.57" lengthAdjust="spacingAndGlyphs">T</tspan><tspan x="-964.28" y="1546.23" font-size="46.89" textLength="21.95" lengthAdjust="spacingAndGlyphs">e</tspan><tspan x="-942.00" y="1518.72" font-size="87.76" textLength="21.89" lengthAdjust="spacingAndGlyphs">/</tspan><tspan x="-920.20" y="1518.40" font-size="81.57" textLength="66.04" lengthAdjust="spacingAndGlyphs">m</tspan><tspan x="-854.77" y="1546.23" font-size="46.89" textLength="21.83" lengthAdjust="spacingAndGlyphs">e</tspan><tspan x="-832.52" y="1518.78" font-size="81.54" textLength="35.30" lengthAdjust="spacingAndGlyphs">c</tspan><tspan x="-796.78" y="1490.10" font-size="48.79" textLength="25.87" lengthAdjust="spacingAndGlyphs">2</tspan></text>
</g>
</g>
</svg>
</body>
</html>
